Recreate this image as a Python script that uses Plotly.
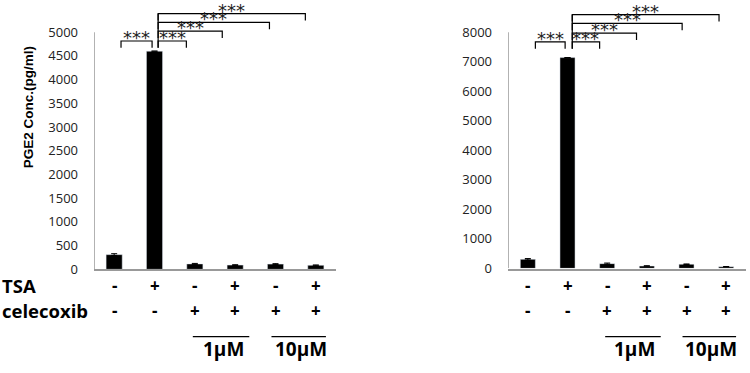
import plotly.graph_objects as go

# ---- data ----
groups = [0, 1, 2, 3, 4, 5]
tsa = ["-", "+", "-", "+", "-", "+"]
celecoxib = ["-", "-", "+", "+", "+", "+"]
left_values = [310, 4600, 115, 90, 110, 85]
left_errors = [20, None, 10, 8, 10, 8]
right_values = [307, 7140, 160, 80, 140, 55]
right_errors = [25, None, 20, 10, 10, 8]
left_ticks = [0, 500, 1000, 1500, 2000, 2500, 3000, 3500, 4000, 4500, 5000]
right_ticks = [0, 1000, 2000, 3000, 4000, 5000, 6000, 7000, 8000]
dose_labels = ["1\u00b5M", "10\u00b5M"]
dose_spans = [(1.95, 3.35), (3.9, 5.25)]
# brackets: (x_start, x_end, y_level)
left_brackets = [(0.17, 0.94, 4815), (1.09, 1.79, 4815), (1.09, 2.68, 5021),
                 (1.09, 3.85, 5206), (1.09, 4.74, 5391)]
right_brackets = [(0.19, 0.94, 7669), (1.12, 1.81, 7669), (1.12, 2.74, 7967),
                  (1.12, 3.89, 8298), (1.12, 4.82, 8595)]
stars = "***"

W, H = 750, 373
def py(p):
    return 1 - p / H

fig = go.Figure()
fig.add_trace(go.Bar(x=groups, y=left_values, width=0.4, marker_color="black",
                     error_y=dict(type="data", array=left_errors, color="black", thickness=1, width=3),
                     xaxis="x", yaxis="y", showlegend=False))
fig.add_trace(go.Bar(x=groups, y=right_values, width=0.38, marker_color="black",
                     error_y=dict(type="data", array=right_errors, color="black", thickness=1, width=3),
                     xaxis="x2", yaxis="y2", showlegend=False))

axis_gray = "#999999"
tickfont = dict(family="Open Sans", size=13, color="#222222")
left_top = 276 / 48.6 * 1000
right_top = 275 / 30.25 * 1000

fig.update_layout(
    width=W, height=H, margin=dict(l=0, r=0, t=0, b=0),
    plot_bgcolor="white", paper_bgcolor="white", bargap=0.6,
    xaxis=dict(domain=[94 / W, 336 / W], range=[-0.5, 5.5], showticklabels=False,
               showgrid=False, zeroline=False, showline=True, linecolor=axis_gray, linewidth=1.5, ticks=""),
    yaxis=dict(domain=[py(276), 1], range=[0, left_top], tickvals=left_ticks, showgrid=False,
               zeroline=False, showline=False, tickfont=tickfont, ticks=""),
    xaxis2=dict(domain=[508 / W, 746 / W], range=[-0.5, 5.5], showticklabels=False,
                showgrid=False, zeroline=False, showline=True, linecolor=axis_gray, linewidth=1.5, ticks=""),
    yaxis2=dict(domain=[py(275), 1], range=[0, right_top], tickvals=right_ticks, showgrid=False,
                zeroline=False, showline=False, tickfont=tickfont, ticks="", anchor="x2"),
)
fig.update_yaxes(ticklabelstandoff=15)

shapes = []
annotations = []
# y axis lines up to the top tick
shapes.append(dict(type="line", xref="x", yref="y", x0=-0.5, x1=-0.5, y0=0, y1=left_ticks[-1],
                   line=dict(color=axis_gray, width=1.5)))
shapes.append(dict(type="line", xref="x2", yref="y2", x0=-0.5, x1=-0.5, y0=0, y1=right_ticks[-1],
                   line=dict(color=axis_gray, width=1.5)))

def add_brackets(brs, xr, yr, tick):
    for x0, x1, yl in brs:
        shapes.append(dict(type="path", xref=xr, yref=yr,
                           path=f"M {x0},{yl - tick} L {x0},{yl} L {x1},{yl} L {x1},{yl - tick}",
                           line=dict(color="black", width=1.2)))
        annotations.append(dict(xref=xr, yref=yr, x=(x0 + x1) / 2, y=yl, text=stars, showarrow=False,
                                yanchor="bottom", yshift=-9,
                                font=dict(family="DejaVu Sans", size=18, color="#222222")))

add_brackets(left_brackets, "x", "y", 7 / 0.0486)
add_brackets(right_brackets, "x2", "y2", 7 / 0.03025)
# long vertical of the grouped brackets
shapes.append(dict(type="line", xref="x", yref="y", x0=left_brackets[1][0], x1=left_brackets[1][0],
                   y0=left_brackets[1][2] - 7 / 0.0486, y1=left_brackets[-1][2], line=dict(color="black", width=1.2)))
shapes.append(dict(type="line", xref="x2", yref="y2", x0=right_brackets[1][0], x1=right_brackets[1][0],
                   y0=right_brackets[1][2] - 7 / 0.03025, y1=right_brackets[-1][2], line=dict(color="black", width=1.2)))

sign_font = dict(family="Open Sans", size=17, color="black")
for xr in ["x", "x2"]:
    for g, t, c in zip(groups, tsa, celecoxib):
        annotations.append(dict(xref=xr, yref="paper", x=g, y=py(293), text=f"<b>{t}</b>",
                                showarrow=False, font=sign_font, yanchor="middle"))
        annotations.append(dict(xref=xr, yref="paper", x=g, y=py(318), text=f"<b>{c}</b>",
                                showarrow=False, font=sign_font, yanchor="middle"))
    for (a, b), lab in zip(dose_spans, dose_labels):
        shapes.append(dict(type="line", xref=xr, yref="paper", x0=a, x1=b, y0=py(345), y1=py(345),
                           line=dict(color="black", width=1.2)))
        annotations.append(dict(xref=xr, yref="paper", x=(a + b) / 2 + 0.05, y=py(358), text=f"<b>{lab}</b>",
                                showarrow=False, yanchor="middle",
                                font=dict(family="Open Sans", size=19, color="black")))

label_font = dict(family="Open Sans", size=18.5, color="black")
annotations.append(dict(xref="paper", yref="paper", x=0, y=py(293), text="<b>TSA</b>", showarrow=False,
                        xanchor="left", yanchor="middle", font=label_font))
annotations.append(dict(xref="paper", yref="paper", x=0, y=py(318), text="<b>celecoxib</b>", showarrow=False,
                        xanchor="left", yanchor="middle", font=label_font))
annotations.append(dict(xref="paper", yref="paper", x=28 / W, y=py(110), text="<b>PGE2 Conc.(pg/ml)</b>",
                        showarrow=False, textangle=-90, xanchor="center", yanchor="middle",
                        font=dict(family="Liberation Sans", size=13.5, color="black")))

fig.update_layout(shapes=shapes, annotations=annotations)
fig.write_html("out.html", post_script="document.body.style.margin='0';",
               config={"displayModeBar": False})
